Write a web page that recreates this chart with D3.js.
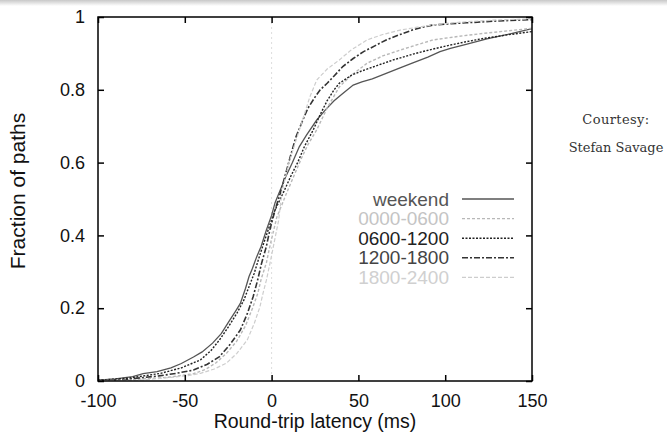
<!DOCTYPE html>
<html lang="en">
<head>
    <meta charset="UTF-8">
    <script src="https://cdnjs.cloudflare.com/ajax/libs/d3/7.8.5/d3.min.js"></script>
    <style>
body {
  margin: 0;
  background: white;
  font-family: "Liberation Sans", Arial, sans-serif;
}
.axis-label { font-size: 18px; fill: #111; }
    </style>
    <title>Round-trip latency</title>
</head>
<body>
    <script>
// series names (legend order)
var seriesNames = ["weekend", "0000-0600", "0600-1200", "1200-1800", "1800-2400"];

// [latency ms, fraction of paths]
var weekend = [[-100,0.002],[-90,0.006],[-80,0.012],[-74,0.02],[-66,0.026],[-58,0.036],[-52,0.048],[-45,0.066],[-40,0.08],[-34,0.104],[-29,0.13],[-24,0.168],[-21,0.19],[-18,0.213],[-15,0.255],[-13,0.287],[-11,0.31],[-8.6,0.341],[-6,0.37],[-3,0.415],[0,0.455],[2,0.49],[5,0.525],[8,0.56],[12,0.6],[16,0.644],[20,0.675],[26,0.717],[31,0.745],[36,0.77],[41,0.79],[47,0.813],[52,0.822],[58,0.83],[66,0.845],[74,0.86],[81,0.873],[90,0.89],[97,0.905],[103,0.914],[112,0.925],[124,0.94],[136,0.952],[150,0.968]];
var h0000 = [[-100,0.001],[-80,0.004],[-60,0.01],[-45,0.02],[-38,0.032],[-32,0.05],[-26,0.076],[-20,0.11],[-15,0.152],[-11,0.2],[-8,0.24],[-6,0.28],[-3,0.325],[-1,0.37],[1,0.41],[3,0.45],[6,0.485],[8.6,0.516],[13,0.565],[17,0.61],[21,0.65],[26,0.69],[32,0.75],[39,0.808],[46,0.84],[55,0.873],[64,0.893],[74,0.909],[84,0.924],[93,0.937],[108,0.947],[122,0.955],[136,0.962],[150,0.969]];
var h0600 = [[-100,0.002],[-82,0.008],[-64,0.021],[-52,0.036],[-41,0.058],[-35,0.083],[-30,0.113],[-25,0.148],[-20,0.186],[-16,0.222],[-13,0.259],[-10,0.296],[-7.7,0.332],[-5,0.372],[-2,0.415],[2,0.47],[7,0.52],[11,0.562],[15,0.6],[19,0.645],[24,0.69],[28,0.732],[32,0.77],[36,0.8],[39,0.818],[46,0.84],[52,0.852],[58,0.862],[70,0.882],[83,0.9],[93,0.912],[103,0.923],[112,0.932],[122,0.941],[136,0.951],[150,0.96]];
var h1200 = [[-100,0.001],[-83,0.005],[-65,0.014],[-55,0.021],[-45,0.03],[-37,0.046],[-30,0.067],[-24,0.1],[-18,0.14],[-14,0.185],[-10.6,0.232],[-8,0.278],[-5.8,0.323],[-3,0.37],[-1,0.415],[2,0.47],[5,0.516],[8,0.568],[11,0.62],[14,0.67],[18,0.717],[21,0.75],[25,0.78],[28,0.8],[32,0.818],[36,0.838],[41,0.864],[47,0.886],[53,0.905],[60,0.922],[66,0.937],[74,0.952],[81,0.964],[87,0.972],[93,0.978],[102,0.981],[112,0.984],[130,0.989],[150,0.993]];
var h1800 = [[-100,0.001],[-74,0.003],[-58,0.01],[-48,0.015],[-41,0.021],[-33,0.033],[-26,0.049],[-20,0.076],[-14,0.113],[-10,0.158],[-6.7,0.204],[-5,0.24],[-3,0.277],[-1,0.322],[1,0.369],[2.5,0.405],[4,0.44],[6,0.52],[8,0.56],[10,0.6],[13,0.645],[16,0.69],[19,0.735],[22,0.78],[26,0.827],[32,0.857],[39,0.882],[46,0.91],[55,0.937],[64,0.952],[74,0.964],[84,0.972],[93,0.978],[102,0.983],[112,0.987],[130,0.992],[150,0.995]];

var xTicks = [-100, -50, 0, 50, 100, 150];
var yTicks = [0, 0.2, 0.4, 0.6, 0.8, 1];

var seriesData = [weekend, h0000, h0600, h1200, h1800];
var strokes = ["#555", "#b8b8b8", "#222", "#333", "#cdcdcd"];
var textColors = ["#555", "#c4c4c4", "#222", "#444", "#d0d0d0"];
var dashes = [null, "3,2", "2,1.5", "6,2,2,2", "4,2"];
var widths = [1.3, 1.4, 1.4, 1.6, 1.2];

var margin = {top: 17, right: 135, bottom: 51, left: 98},
    width = 667 - margin.left - margin.right,
    height = 432 - margin.top - margin.bottom;

var x = d3.scaleLinear().domain([-100, 150]).range([0, width]);
var y = d3.scaleLinear().domain([0, 1]).range([height, 0]);

var root = d3.select("body").append("svg")
    .attr("width", 667)
    .attr("height", 432);

// greyish band along the top edge of the scan
var grad = root.append("defs").append("linearGradient")
    .attr("id", "topband").attr("x1", 0).attr("y1", 0).attr("x2", 0).attr("y2", 1);
grad.append("stop").attr("offset", "0%").attr("stop-color", "#c8c8c8");
grad.append("stop").attr("offset", "100%").attr("stop-color", "#ffffff");
root.append("rect").attr("width", 667).attr("height", 6).style("fill", "url(#topband)");

var svg = root.append("g")
    .attr("transform", "translate(" + margin.left + "," + margin.top + ")");

// faint dotted line at zero
svg.append("line")
    .attr("x1", x(0)).attr("x2", x(0))
    .attr("y1", 0).attr("y2", height)
    .style("stroke", "#ddd")
    .style("stroke-dasharray", "2,3");

var line = d3.line()
    .x(d => x(d[0]))
    .y(d => y(d[1]));

svg.selectAll(".series")
    .data(seriesData)
    .enter().append("path")
    .attr("class", "series")
    .attr("d", line)
    .style("fill", "none")
    .style("stroke", (d, i) => strokes[i])
    .style("stroke-width", (d, i) => widths[i])
    .style("stroke-dasharray", (d, i) => dashes[i]);

// axes with inward ticks on all sides
svg.append("g")
    .attr("transform", "translate(0," + height + ")")
    .call(d3.axisBottom(x).tickValues(xTicks).tickSizeInner(-6).tickSizeOuter(0).tickPadding(13)
        .tickFormat(d => String(d)))
    .call(g => g.selectAll("text").attr("class", "axis-label"));
svg.append("g")
    .call(d3.axisTop(x).tickValues(xTicks).tickSizeInner(-6).tickSizeOuter(0).tickFormat(""));
svg.append("g")
    .call(d3.axisLeft(y).tickValues(yTicks).tickSizeInner(-6).tickSizeOuter(0).tickPadding(13)
        .tickFormat(d => String(d)))
    .call(g => g.selectAll("text").attr("class", "axis-label"));
svg.append("g")
    .attr("transform", "translate(" + width + ",0)")
    .call(d3.axisRight(y).tickValues(yTicks).tickSizeInner(-6).tickSizeOuter(0).tickFormat(""));

svg.selectAll(".domain").remove();
svg.selectAll(".tick line").style("stroke", "#000").style("stroke-width", 1.5);

svg.append("rect")
    .attr("width", width)
    .attr("height", height)
    .style("fill", "none")
    .style("stroke", "#000")
    .style("stroke-width", 1.5);

svg.append("text")
    .attr("x", width / 2)
    .attr("y", height + 47)
    .attr("text-anchor", "middle")
    .style("font-size", "19.5px")
    .style("fill", "#111")
    .text("Round-trip latency (ms)");

svg.append("text")
    .attr("transform", "rotate(-90)")
    .attr("x", -height / 2 + 8)
    .attr("y", -73)
    .attr("text-anchor", "middle")
    .style("font-size", "21px")
    .style("fill", "#111")
    .text("Fraction of paths");

// legend
var legend = svg.selectAll(".legend")
    .data(seriesNames)
    .enter().append("g")
    .attr("class", "legend")
    .attr("transform", (d, i) => "translate(0," + (182 + i * 19.6) + ")");

legend.append("text")
    .attr("x", 351)
    .attr("dy", ".35em")
    .attr("text-anchor", "end")
    .style("font-size", "19px")
    .style("fill", (d, i) => textColors[i])
    .text(d => d);

legend.append("line")
    .attr("x1", 364).attr("x2", 416)
    .style("stroke", (d, i) => strokes[i])
    .style("stroke-width", (d, i) => widths[i])
    .style("stroke-dasharray", (d, i) => dashes[i]);

// credit
root.append("text")
    .attr("x", 616).attr("y", 124)
    .attr("text-anchor", "middle")
    .style("font-family", "'DejaVu Serif', serif")
    .style("font-size", "13px")
    .style("letter-spacing", "0.4px")
    .style("fill", "#333")
    .text("Courtesy:");
root.append("text")
    .attr("x", 616).attr("y", 152)
    .attr("text-anchor", "middle")
    .style("font-family", "'DejaVu Serif', serif")
    .style("font-size", "13px")
    .style("fill", "#333")
    .text("Stefan Savage");
    </script>
</body>
</html>
